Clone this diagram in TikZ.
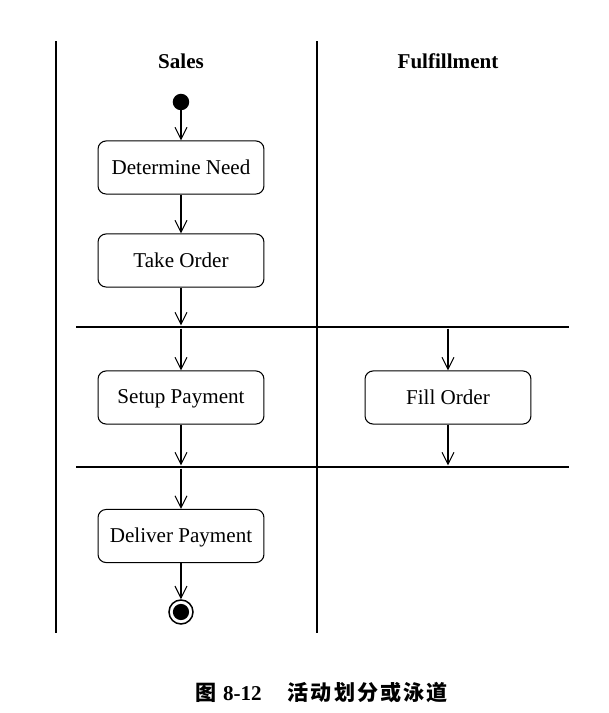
\documentclass[tikz,border=0pt]{standalone}
\usepackage{fontspec}
\setmainfont{Liberation Serif}
\newfontfamily\cjk[LetterSpace=10]{Noto Sans CJK SC}
\usetikzlibrary{arrows.meta}
\tikzset{
	activity/.style={shape=rectangle,rounded corners=0.27cm,draw=black,line width=0.035cm,minimum width=5.53cm,minimum height=1.77cm,text depth=0.25ex,font=\fontsize{20}{24}\selectfont},
	lane/.style={font=\bfseries\fontsize{20}{24}\selectfont},
	bar/.style={shape=rectangle,fill=black,inner sep=0pt,minimum width=16.43cm,minimum height=0.09cm},
	initial/.style={shape=circle,fill=black,inner sep=0pt,minimum size=0.55cm},
	final/.style={shape=circle,draw=black,line width=0.05cm,inner sep=0pt,minimum size=0.8cm,path picture={\fill[black] (path picture bounding box.center) circle (0.27cm);}},
	flow/.style={line width=0.035cm,-{Straight Barb[length=0.4cm,width=0.4cm,line width=0.035cm]}},
	swimlane/.style={line width=0.04cm},
}
\begin{document}
\begin{tikzpicture}
		\useasboundingbox (0,0) rectangle (20.3,-23.767);
		\draw[swimlane] (1.867,-1.367) -- (1.867,-21.1);
		\draw[swimlane] (10.567,-1.367) -- (10.567,-21.1);

		\node[lane] (S) at (6.033,-2.033) {Sales};
		\node[lane] (F) at (14.933,-2.033) {Fulfillment};

		\node[initial] (I) at (6.033,-3.4) {};
		\node[activity] (N) at (6.033,-5.583) {Determine Need};
		\node[activity] (T) at (6.033,-8.683) {Take Order};
		\node[bar] (B1) at (10.75,-10.9) {};
		\node[activity] (P) at (6.033,-13.25) {Setup Payment};
		\node[activity] (O) at (14.933,-13.25) {Fill Order};
		\node[bar] (B2) at (10.75,-15.567) {};
		\node[activity] (D) at (6.033,-17.867) {Deliver Payment};
		\node[final] (E) at (6.033,-20.4) {};

		\path[flow] (I) edge (N);
		\path[flow] (N) edge (T);
		\path[flow] (T) edge (T |- B1.north);
		\path[flow] (B1.south -| P) edge (P);
		\path[flow] (B1.south -| O) edge (O);
		\path[flow] (P) edge (P |- B2.north);
		\path[flow] (O) edge (O |- B2.north);
		\path[flow] (B2.south -| D) edge (D);
		\path[flow] (D) edge (E);

		\node[font=\bfseries\fontsize{20}{24}\selectfont] (C) at (10.733,-23.067) {{\cjk 图}\hspace{0.2cm}8-12\hspace{0.87cm}{\cjk 活动划分或泳道}};
\end{tikzpicture}
\end{document}
